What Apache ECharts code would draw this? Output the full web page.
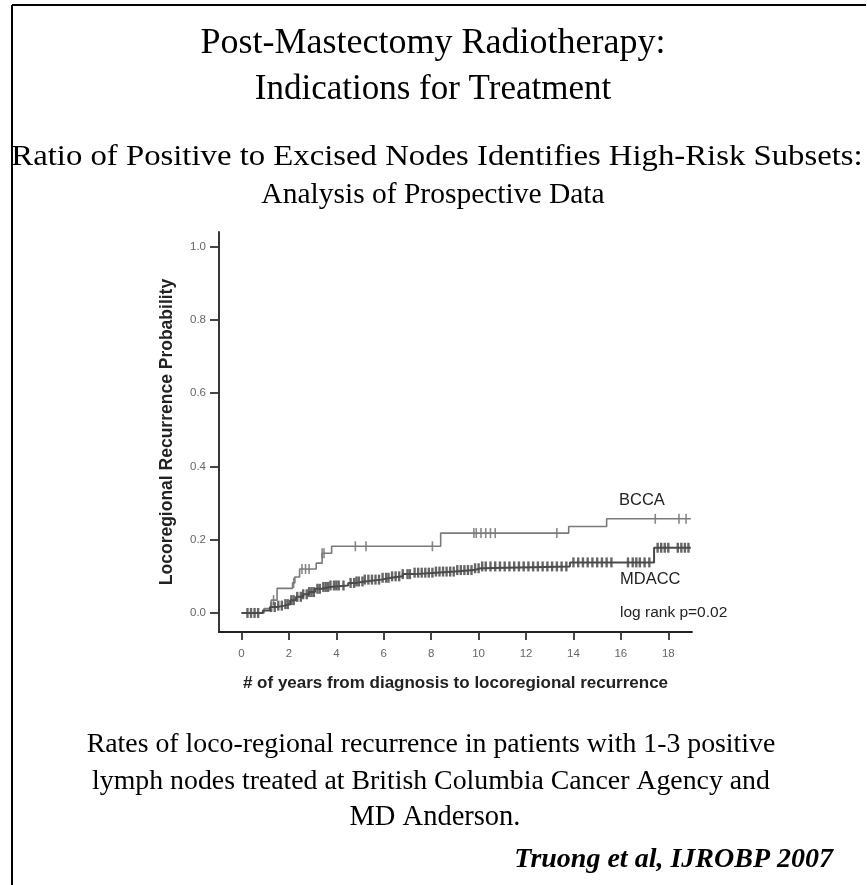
<!DOCTYPE html>
<html>
<head>
<meta charset="utf-8">
<script src="https://cdn.jsdelivr.net/npm/echarts@6/dist/echarts.min.js"></script>
<style>
  html, body { margin: 0; padding: 0; background: #fff; }
  #main { width: 867px; height: 885px; }
</style>
</head>
<body>
<div id="main"></div>
<script>
// BCCA curve: event times (years) and probability after each step
const bccaTimes = [0, 0.95, 1.25, 1.5, 2.15, 2.25, 2.45, 3.15, 3.4, 3.8, 8.4, 13.8, 15.4, 18.95];
const bccaValues = [0, 0.012, 0.035, 0.067, 0.082, 0.098, 0.12, 0.136, 0.163, 0.182, 0.218, 0.236, 0.257, 0.257];
const bccaCensor = [1.35, 2.2, 2.55, 2.7, 2.85, 3.4, 3.48, 4.8, 5.25, 8.05, 9.8, 9.9, 10.1, 10.3, 10.5, 10.7, 13.3, 17.45, 18.45, 18.75];

// MDACC curve
const mdaccTimes = [0, 0.9, 1.2, 1.5, 1.8, 2.05, 2.3, 2.6, 2.85, 3.1, 3.4, 3.7, 4.5, 4.8, 5.2, 5.9, 6.3, 6.8, 7.3, 8.2, 9.0, 9.8, 10.1, 13.85, 17.4, 18.95];
const mdaccValues = [0, 0.007, 0.016, 0.02, 0.024, 0.035, 0.044, 0.051, 0.057, 0.066, 0.071, 0.075, 0.082, 0.086, 0.091, 0.096, 0.1, 0.106, 0.11, 0.113, 0.117, 0.122, 0.127, 0.138, 0.178, 0.178];
const mdaccCensor = [0.25, 0.4, 0.55, 0.7,
  1.25, 1.4, 1.55, 1.7, 1.85, 1.95, 2.1, 2.2, 2.35, 2.5, 2.6, 2.75, 2.85, 2.95, 3.05, 3.2, 3.3, 3.45, 3.55, 3.65, 3.75, 3.9, 4.0, 4.1, 4.3,
  4.6, 4.75, 4.85, 4.95, 5.1, 5.2, 5.35, 5.5, 5.65, 5.8, 5.95, 6.1, 6.2, 6.35, 6.5, 6.65, 6.8, 7.0, 7.1, 7.3, 7.45, 7.6, 7.75, 7.9,
  8.05, 8.2, 8.35, 8.5, 8.65, 8.8, 8.95, 9.1, 9.25, 9.4, 9.55, 9.7, 9.85, 10.0, 10.15, 10.3, 10.5, 10.7, 10.9, 11.1, 11.3, 11.5,
  11.7, 11.9, 12.1, 12.3, 12.5, 12.7, 12.9, 13.1, 13.3, 13.5, 13.7, 14.0, 14.2, 14.4, 14.6, 14.8, 15.0, 15.2, 15.4, 15.6,
  16.3, 16.5, 16.65, 16.8, 17.0, 17.2, 17.55, 17.7, 17.85, 18.0, 18.4, 18.55, 18.7, 18.85];

// tick labels
const xTicks = [0, 2, 4, 6, 8, 10, 12, 14, 16, 18];
const yTicks = [0, 0.2, 0.4, 0.6, 0.8, 1.0];

// value of a step curve at time t
function stepValue(times, values, t) {
  let v = values[0];
  for (let i = 0; i < times.length; i++) {
    if (times[i] <= t) v = values[i];
  }
  return v;
}

const serif = '"Liberation Serif", "DejaVu Serif", serif';
const sans = '"Liberation Sans", Arial, sans-serif';

function text(str, x, y, size, opts, extra) {
  return Object.assign({
    type: 'text',
    x: x,
    y: y,
    style: Object.assign({
      text: str,
      font: size + 'px ' + serif,
      fill: '#000',
      textAlign: 'center',
      textVerticalAlign: 'middle'
    }, opts || {})
  }, extra || {});
}

const labelFont = '16.5px ' + sans;

const chart = echarts.init(document.getElementById('main'));

const option = {
  animation: false,
  backgroundColor: '#fff',
  grid: { left: 219, right: 175, top: 232, bottom: 253 },
  xAxis: {
    type: 'value',
    min: -0.95,
    max: 19,
    splitLine: { show: false },
    axisLine: { onZero: false, lineStyle: { color: '#222', width: 1.8 } },
    axisTick: { customValues: xTicks, length: 8, lineStyle: { color: '#333', width: 1.8 } },
    axisLabel: { customValues: xTicks, margin: 16, color: '#666', fontSize: 11.5, fontFamily: sans },
    name: '# of years from diagnosis to locoregional recurrence',
    nameLocation: 'middle',
    nameGap: 43,
    nameTextStyle: { color: '#222', fontSize: 17, fontWeight: 'bold', fontFamily: sans }
  },
  yAxis: {
    type: 'value',
    min: -0.052,
    max: 1.04,
    splitLine: { show: false },
    axisLine: { onZero: false, lineStyle: { color: '#222', width: 1.8 } },
    axisTick: { customValues: yTicks, length: 9, lineStyle: { color: '#333', width: 1.8 } },
    axisLabel: {
      customValues: yTicks, margin: 13, color: '#666', fontSize: 11.5, fontFamily: sans,
      formatter: (v) => v.toFixed(1)
    },
    name: 'Locoregional Recurrence Probability',
    nameLocation: 'middle',
    nameGap: 43,
    nameTextStyle: { color: '#222', fontSize: 17.5, fontWeight: 'bold', fontFamily: sans }
  },
  series: [
    {
      name: 'BCCA',
      type: 'line',
      step: 'end',
      showSymbol: false,
      lineStyle: { color: '#7a7a7a', width: 1.6 },
      data: bccaTimes.map((t, i) => [t, bccaValues[i]])
    },
    {
      name: 'MDACC',
      type: 'line',
      step: 'end',
      showSymbol: false,
      lineStyle: { color: '#4a4a4a', width: 2 },
      data: mdaccTimes.map((t, i) => [t, mdaccValues[i]])
    },
    {
      name: 'BCCA censored',
      type: 'scatter',
      symbol: 'rect',
      symbolSize: [1.6, 10],
      itemStyle: { color: '#6a6a6a' },
      data: bccaCensor.map((t) => [t, stepValue(bccaTimes, bccaValues, t)])
    },
    {
      name: 'MDACC censored',
      type: 'scatter',
      symbol: 'rect',
      symbolSize: [2.4, 10],
      itemStyle: { color: '#404040' },
      data: mdaccCensor.map((t) => [t, stepValue(mdaccTimes, mdaccValues, t)])
    }
  ],
  graphic: [
    // slide frame
    { type: 'line', shape: { x1: 12, y1: 5, x2: 866, y2: 5 }, style: { stroke: '#000', lineWidth: 2 } },
    { type: 'line', shape: { x1: 12, y1: 5, x2: 12, y2: 885 }, style: { stroke: '#000', lineWidth: 2 } },
    text('Post-Mastectomy Radiotherapy:', 433, 44, 36),
    text('Indications for Treatment', 433, 90, 35),
    // this line is stretched wider on the slide
    text('Ratio of Positive to Excised Nodes Identifies High-Risk Subsets:', 437, 157, 29.5, null, { scaleX: 1.11 }),
    text('Analysis of Prospective Data', 433, 195, 29.5),
    text('Rates of loco-regional recurrence in patients with 1-3 positive', 431, 745, 27.8),
    text('lymph nodes treated at British Columbia Cancer Agency and', 431, 782, 27.8),
    text('MD Anderson.', 435, 818, 28.5),
    text('Truong et al, IJROBP 2007', 833, 860, 28, { textAlign: 'right', font: 'italic bold 28px ' + serif }),
    // curve labels
    text('BCCA', 619, 500, 17, { textAlign: 'left', font: labelFont, fill: '#222' }),
    text('MDACC', 620, 579, 17, { textAlign: 'left', font: labelFont, fill: '#222' }),
    text('log rank p=0.02', 620, 613, 16, { textAlign: 'left', font: '15.5px ' + sans, fill: '#222' })
  ]
};

chart.setOption(option);
</script>
</body>
</html>
